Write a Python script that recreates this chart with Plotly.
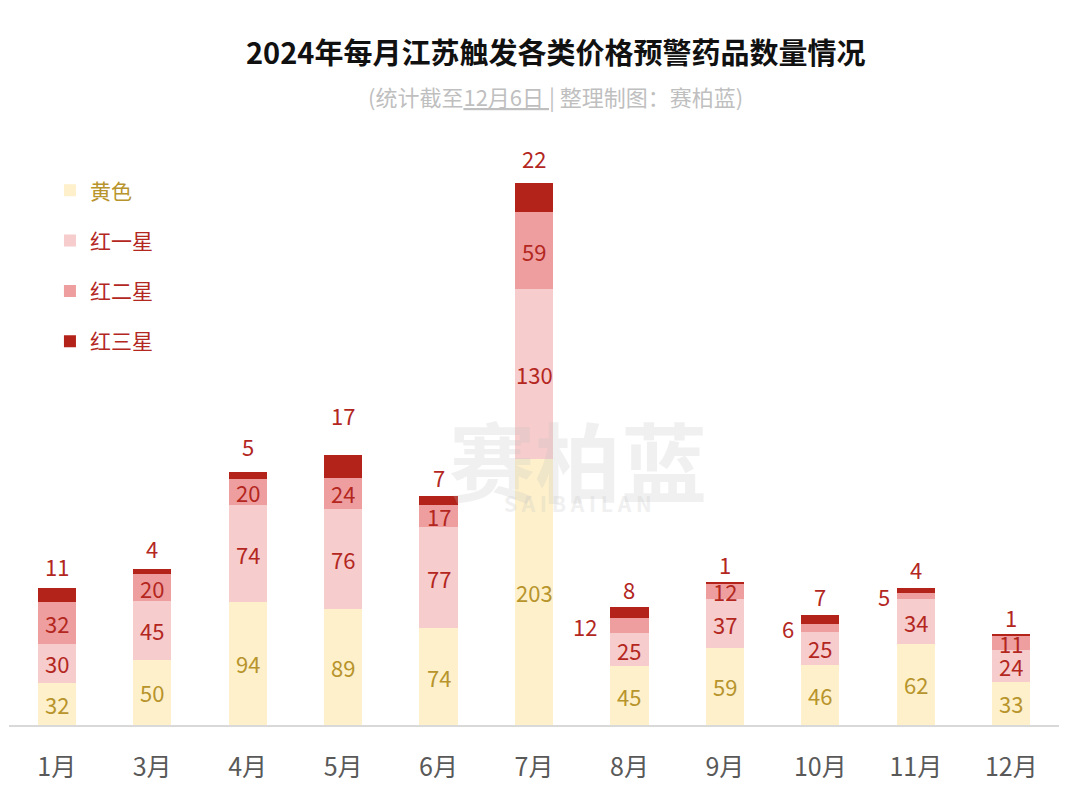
import plotly.graph_objects as go

months = ["1月", "3月", "4月", "5月", "6月", "7月", "8月", "9月", "10月", "11月", "12月"]
yellow = [32, 50, 94, 89, 74, 203, 45, 59, 46, 62, 33]
red1 = [30, 45, 74, 76, 77, 130, 25, 37, 25, 34, 24]
red2 = [32, 20, 20, 24, 17, 59, 12, 12, 6, 5, 11]
red3 = [11, 4, 5, 17, 7, 22, 8, 1, 7, 4, 1]

series_names = ["黄色", "红一星", "红二星", "红三星"]
series_vals = [yellow, red1, red2, red3]
colors = ["#FDF0CB", "#F6CCCC", "#EE9E9E", "#B3231A"]
label_colors = ["#B8942C", "#B3271F", "#B3271F", "#B3271F"]
side_label_months = ["8月", "10月", "11月"]
# pixel gap of each top (红三星) label above its bar, as placed in the original
top_label_gap = [22, 21, 26, 40, 19, 25, 18, 18, 19, 19, 18]
FONT = "Noto Sans CJK SC, Noto Sans, sans-serif"

# page body has an 8px margin: all figure coordinates are shifted by -8
OFF = 8
L, T = 1, 128
PW, PH = 1050, 589
B = 803 - T - PH
R = 1080 - L - PW


def px_x(x):
    return (x - OFF - L) / PW


def px_y(y):
    return (803 - (y - OFF) - B) / PH


fig = go.Figure()
for i, (nm, vals) in enumerate(zip(series_names, series_vals)):
    fig.add_trace(go.Bar(
        x=months, y=vals,
        name=f'<span style="color:{label_colors[i]}">{nm}</span>',
        marker=dict(color=colors[i], line=dict(width=0)),
        width=0.4, legendgroup=f"g{i}",
    ))

annotations = [
    dict(text="<b>赛柏蓝</b>", x=px_x(578), y=px_y(458), xref="paper", yref="paper",
         showarrow=False, opacity=0.22,
         font=dict(size=86, color="#C0C0C0", family=FONT)),
    dict(text="<b>S A I B A I L A N</b>", x=px_x(578), y=px_y(503), xref="paper", yref="paper",
         showarrow=False, opacity=0.22,
         font=dict(size=21, color="#C0C0C0", family=FONT)),
]
for j, m in enumerate(months):
    base = 0
    for i, vals in enumerate(series_vals):
        v = vals[j]
        f = dict(size=22, color=label_colors[i], family=FONT)
        if i == 3:
            annotations.append(dict(x=m, y=base + v, text=str(v), xref="x", yref="y",
                                    yshift=top_label_gap[j], showarrow=False, font=f, height=24))
        elif i == 2 and m in side_label_months:
            annotations.append(dict(x=m, y=base + v / 2, text=str(v), xref="x", yref="y",
                                    xshift=-44 if v >= 10 else -32, showarrow=False, font=f))
        else:
            annotations.append(dict(x=m, y=base + v / 2, text=str(v), xref="x", yref="y",
                                    showarrow=False, font=f, height=24))
        base += v

annotations += [
    dict(text="<b>2024年每月江苏触发各类价格预警药品数量情况</b>", x=px_x(555), y=px_y(51),
         xref="paper", yref="paper", xanchor="center", yanchor="middle", showarrow=False,
         font=dict(size=29, color="#111111", family=FONT)),
    dict(text='(统计截至<u>12月6日 </u>| 整理制图：赛柏蓝)', x=px_x(555), y=px_y(96),
         xref="paper", yref="paper", xanchor="center", yanchor="middle", showarrow=False,
         font=dict(size=22, color="#BFBFBF", family=FONT)),
]

fig.update_layout(
    width=1080, height=803,
    margin=dict(l=L, r=R, t=T, b=B),
    barmode="stack",
    plot_bgcolor="white", paper_bgcolor="white",
    showlegend=True,
    legend=dict(x=0.039, y=0.942, xanchor="left", yanchor="top",
                traceorder="grouped", tracegroupgap=20,
                font=dict(size=21, family=FONT),
                bgcolor="rgba(0,0,0,0)"),
    xaxis=dict(showline=True, linecolor="#D9D9D9", linewidth=1.5, ticks="",
               tickfont=dict(size=25, color="#595959", family=FONT),
               ticklabelstandoff=19,
               showgrid=False, fixedrange=True),
    yaxis=dict(range=[0, 450], visible=False, showgrid=False),
    annotations=annotations,
)

fig.write_html("out.html")
